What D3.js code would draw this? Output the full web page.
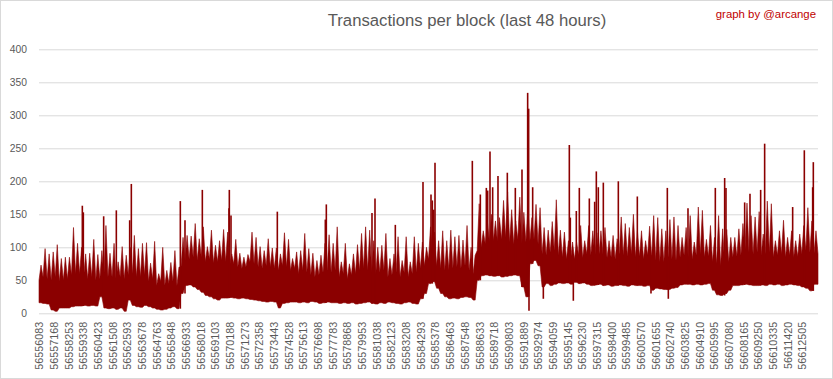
<!DOCTYPE html>
<html><head><meta charset="utf-8">
<script src="https://cdn.jsdelivr.net/npm/d3@7"></script>
<style>body{margin:0;background:#fff}svg{display:block}</style>
</head><body>
<svg id="c" width="833" height="379"></svg>
<script>
// ---------- data ----------
const firstBlock = 56556083;
const blockCount = 57600;      // blocks in the last 48 hours
const binSize = 300;           // blocks summarised per envelope bin
// lowest value reached in each bin of 300 blocks
const binLow = [
 16,15,14,5,3,8,8,8,10,11,11,12,11,12,11,25,8,7,8,6,8,3,20,12,10,9,12,10,8,6,5,6,
 8,10,7,30,42,43,40,36,32,27,25,22,20,23,23,24,23,22,23,22,21,20,19,18,17,18,17,8,15,16,17,17,
 16,17,16,18,17,15,16,17,16,16,15,16,15,16,14,15,16,17,15,14,16,15,17,16,15,14,16,17,15,14,22,30,
 45,48,38,30,25,22,23,22,24,25,24,20,50,57,58,57,56,57,55,56,57,58,57,40,25,75,80,72,40,45,42,44,
 46,45,46,44,47,45,46,44,42,43,44,42,43,41,42,43,42,41,43,42,42,41,42,35,38,37,36,36,38,39,43,44,
 44,43,44,43,44,45,35,28,27,30,35,42,42,43,44,43,42,42,43,42,44,43,44,42,43,44,43,42,40,38,34,44
];
// level up to which the series is densely filled, per bin
const binTypical = [
 50,55,52,50,55,48,50,52,58,60,60,55,52,55,50,52,58,55,55,50,55,52,58,60,55,55,58,48,52,42,48,42,
 45,48,42,70,80,82,85,80,85,78,82,76,78,80,78,72,75,70,68,70,78,75,70,68,72,70,68,65,72,70,65,68,
 60,65,62,58,55,58,62,65,62,65,55,60,52,58,60,65,68,65,62,60,62,65,55,58,62,55,62,55,60,62,68,72,
 82,85,72,68,65,66,68,70,68,72,65,60,95,100,105,108,110,108,112,115,108,105,112,105,108,110,112,105,90,88,92,95,
 88,85,82,80,82,88,84,90,88,86,88,90,84,85,82,90,88,86,90,85,86,82,88,85,80,78,78,80,82,80,85,88,
 85,82,88,90,85,86,78,75,72,75,78,85,86,88,95,92,90,92,88,90,92,85,88,90,85,88,84,86,90,95,92,90
];
// highest value reached in each bin (isolated spikes listed separately)
const binHigh = [
 73,98,90,93,104,83,85,85,130,106,100,90,91,112,89,95,133,91,106,78,101,88,100,118,98,106,107,76,109,60,100,65,
 77,95,70,115,118,117,136,113,131,101,126,103,110,127,123,90,112,91,85,89,123,115,101,95,113,99,99,90,122,112,83,93,
 95,121,98,91,80,88,106,119,106,131,78,106,75,90,104,121,131,126,110,100,103,121,83,90,116,80,116,78,116,106,108,100,
 131,123,110,125,110,126,116,118,111,133,100,88,166,125,140,150,140,145,171,184,157,140,176,153,160,145,165,160,130,126,139,172,
 126,123,110,108,108,133,110,133,125,122,125,130,110,118,113,146,136,130,150,125,125,110,132,148,145,128,125,142,146,133,115,130,
 148,108,161,156,112,133,115,148,128,127,115,115,128,136,167,148,146,154,120,170,166,110,125,141,115,125,110,120,133,160,140,125
];
// isolated thin spikes (and dips) standing out of the envelope
const spikeBlocks = [
 56559287,56559361,56560864,56561801,56562787,56562910,56566533,56566878,56568160,56570132,56570156,56570280,56573705,
 56577254,56577328,56580705,56580927,56582430,56584476,56585068,56585166,56585265,56585364,56588124,56588716,56589159,
 56589258,56589430,56589627,56590021,56590711,56591303,56591796,56592215,56592289,56592314,56592585,56593374,
 56595296,56595370,56595592,56595813,56596035,56596775,56597169,56597292,56597440,56597810,56598919,56600324,56601334,
 56602542,56602616,56604070,56606091,56606781,56606879,56608260,56608654,56609443,56609738,56611809,56612672,56613288,56613337
];
const spikeValues = [
 163,153,147,156,141,196,170,141,187,159,187,148,154,
 142,165,152,174,134,199,180,171,157,228,231,180,190,
 186,245,191,208,213,190,218,334,310,4,191,22,
 255,145,19,155,190,174,169,215,191,198,200,177,30,
 190,22,159,190,205,190,168,181,187,257,161,247,191,229
];
const tickStep = 1085;
const tickLabels = [
 "56556083","56557168","56558253","56559338","56560423","56561508","56562593","56563678","56564763","56565848",
 "56566933","56568018","56569103","56570188","56571273","56572358","56573443","56574528","56575613","56576698",
 "56577783","56578868","56579953","56581038","56582123","56583208","56584293","56585378","56586463","56587548",
 "56588633","56589718","56590803","56591889","56592974","56594059","56595145","56596230","56597315","56598400",
 "56599485","56600570","56601655","56602740","56603825","56604910","56605995","56607080","56608165","56609250",
 "56610335","56611420","56612505"
];
const yTicks = [0,50,100,150,200,250,300,350,400];
const title = "Transactions per block (last 48 hours)";
const credit = "graph by @arcange";

// ---------- drawing ----------
const W = 833, H = 379;
const plot = {left: 39, right: 818, top: 49.3, bottom: 313.3};
const red = "#8b0000", grey = "#d9d9d9", textGrey = "#595959";
const font = "Liberation Sans, Arial, sans-serif";
const svg = d3.select("#c");

svg.append("rect").attr("x",0.5).attr("y",0.5).attr("width",W-1).attr("height",H-1)
  .attr("fill","#fff").attr("stroke",grey);

const x = d3.scaleLinear().domain([0, blockCount]).range([plot.left, plot.right]);
const y = d3.scaleLinear().domain([0, 400]).range([plot.bottom, plot.top]);

// y gridlines + labels
const ya = svg.append("g").attr("transform",`translate(${plot.left},0)`)
  .call(d3.axisLeft(y).tickValues(yTicks).tickSize(-(plot.right-plot.left)).tickPadding(12));
ya.select(".domain").remove();
ya.selectAll(".tick line").attr("stroke",grey).attr("stroke-width",1);
ya.selectAll(".tick text").attr("fill",textGrey).attr("font-family",font).attr("font-size","10.3px");

// dense body of the series: bin edges at the dense level, bin centres at the bin maximum
const pts = [];
binLow.forEach((lo,i)=>{
  pts.push({c: i*binSize, lo, top: binTypical[i]});
  pts.push({c: i*binSize + binSize/2, lo, top: binHigh[i]});
});
pts.push({c: blockCount, lo: binLow[binLow.length-1], top: binTypical[binTypical.length-1]});
const series = svg.append("g");
series.append("path").datum(pts)
  .attr("d", d3.area().x(d=>x(d.c)).y0(d=>y(d.lo)).y1(d=>y(d.top)).curve(d3.curveLinear))
  .attr("fill", red).attr("stroke", red).attr("stroke-width",0.6).attr("stroke-linejoin","miter");

// isolated spikes and dips
series.append("g").selectAll("line").data(spikeBlocks.map((b,i)=>({idx:b-firstBlock, v:spikeValues[i]})))
  .join("line")
  .attr("x1", d=>x(d.idx)).attr("x2", d=>x(d.idx))
  .attr("y1", d=>{const b=Math.min(binLow.length-1, Math.floor(d.idx/binSize));
                  return d.v < binLow[b] ? y(binTypical[b]) : y(binLow[b]);})
  .attr("y2", d=>y(d.v))
  .attr("stroke", red).attr("stroke-width",1.6);

// x axis labels
const xa = svg.append("g").attr("transform",`translate(0,${plot.bottom})`)
  .call(d3.axisBottom(x).tickValues(tickLabels.map((_,i)=>i*tickStep+0.5))
        .tickFormat((d,i)=>tickLabels[i]).tickSize(0));
xa.select(".domain").remove();
xa.selectAll(".tick text")
  .attr("transform","rotate(-90)").attr("text-anchor","end")
  .attr("x",-8.5).attr("y",0).attr("dy","0.35em")
  .attr("fill",textGrey).attr("font-family",font).attr("font-size","10.8px");

// titles
svg.append("text").attr("x",467).attr("y",26).attr("text-anchor","middle")
  .attr("font-family",font).attr("font-size","16.7px").attr("fill",textGrey).text(title);
svg.append("text").attr("x",816).attr("y",17.5).attr("text-anchor","end")
  .attr("font-family",font).attr("font-size","11.4px").attr("fill","#c00000").text(credit);
</script>
</body></html>
